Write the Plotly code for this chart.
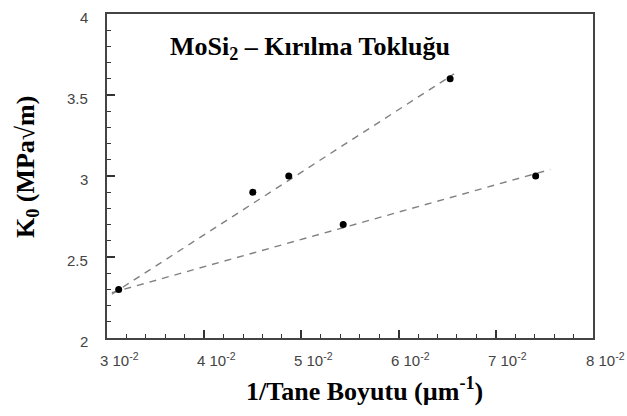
import plotly.graph_objects as go

# data
x_upper = [0.0312, 0.0450, 0.0487, 0.0653]
y_upper = [2.3, 2.9, 3.0, 3.6]
x_lower = [0.0543, 0.0741]
y_lower = [2.7, 3.0]
fit_upper_x = [0.0305, 0.0657]
fit_upper_y = [2.27, 3.63]
fit_lower_x = [0.0305, 0.0756]
fit_lower_y = [2.28, 3.04]
x_tickvals = [0.03, 0.04, 0.05, 0.06, 0.07, 0.08]
x_ticktext = ["3 10<sup>-2</sup>", "4 10<sup>-2</sup>", "5 10<sup>-2</sup>",
              "6 10<sup>-2</sup>", "7 10<sup>-2</sup>", "8 10<sup>-2</sup>"]
y_tickvals = [2, 2.5, 3, 3.5, 4]
y_ticktext = ["2", "2.5", "3", "3.5", "4"]

fig = go.Figure()
dash_style = dict(color="#808080", width=1.4, dash="7px,6px")
fig.add_trace(go.Scatter(x=fit_upper_x, y=fit_upper_y, mode="lines", line=dash_style,
                         showlegend=False, hoverinfo="skip"))
fig.add_trace(go.Scatter(x=fit_lower_x, y=fit_lower_y, mode="lines", line=dash_style,
                         showlegend=False, hoverinfo="skip"))
fig.add_trace(go.Scatter(x=x_upper, y=y_upper, mode="markers",
                         marker=dict(color="black", size=7), showlegend=False))
fig.add_trace(go.Scatter(x=x_lower, y=y_lower, mode="markers",
                         marker=dict(color="black", size=7), showlegend=False))

axis_common = dict(
    showgrid=False, zeroline=False, showline=True, mirror=True,
    linecolor="#444444", linewidth=1.5, ticks="inside", ticklen=8,
    tickcolor="#333333", tickwidth=1.5, showticklabels=False,
)

fig.update_xaxes(range=[0.03, 0.08], tickvals=x_tickvals,
                 minor=dict(dtick=0.002, tick0=0.03, ticks="inside", ticklen=4,
                            tickcolor="#333333", tickwidth=1.3),
                 **axis_common)
fig.update_yaxes(range=[2, 4], tickvals=y_tickvals,
                 minor=dict(dtick=0.1, tick0=2, ticks="inside", ticklen=4,
                            tickcolor="#333333", tickwidth=1.3),
                 **axis_common)

tickfont = dict(family="Liberation Sans, Arial", size=15, color="#444444")
annots = []
for v, t in zip(x_tickvals, x_ticktext):
    annots.append(dict(text=t, x=v, y=0, xref="x", yref="paper", showarrow=False,
                       xanchor="center", yanchor="middle", xshift=12, yshift=-21,
                       font=tickfont))
for v, t in zip(y_tickvals, y_ticktext):
    annots.append(dict(text=t, x=0, y=v, xref="paper", yref="y", showarrow=False,
                       xanchor="right", yanchor="middle", xshift=-17, yshift=-3,
                       font=tickfont))

serif = "Liberation Serif, Times New Roman, serif"
annots += [
    dict(text="<b>MoSi<sub>2</sub> – Kırılma Tokluğu</b>",
         x=(310 - 107) / 486, y=(338 - 46) / 326,
         xref="paper", yref="paper", showarrow=False,
         font=dict(family=serif, size=26, color="black"),
         xanchor="center", yanchor="middle"),
    dict(text="<b>1/Tane Boyutu (µm<sup>-1</sup>)</b>",
         x=(364 - 107) / 486, y=-(390 - 338) / 326, xref="paper", yref="paper",
         showarrow=False, font=dict(family=serif, size=26, color="black"),
         xanchor="center", yanchor="middle"),
    dict(text="<b>K<sub>0</sub> (MPa√m)</b>",
         x=-(107 - 27) / 486, y=(338 - 166) / 326, xref="paper", yref="paper",
         showarrow=False, textangle=-90,
         font=dict(family=serif, size=26, color="black"),
         xanchor="center", yanchor="middle"),
]

fig.update_layout(
    width=627, height=416,
    margin=dict(l=107, r=34, t=12, b=78),
    paper_bgcolor="white", plot_bgcolor="white",
    annotations=annots,
)

fig.write_html("out.html")
